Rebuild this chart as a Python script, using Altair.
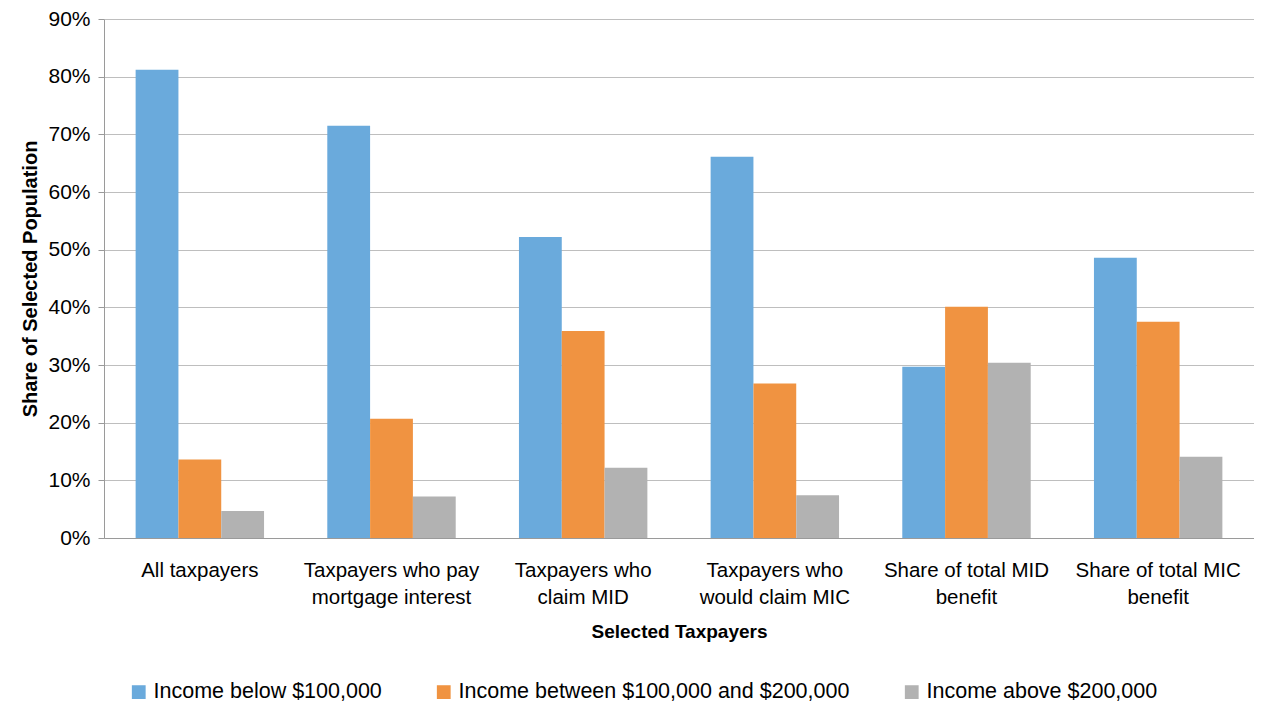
import altair as alt
import pandas as pd

categories = [
    "All taxpayers",
    "Taxpayers who pay\nmortgage interest",
    "Taxpayers who\nclaim MID",
    "Taxpayers who\nwould claim MIC",
    "Share of total MID\nbenefit",
    "Share of total MIC\nbenefit",
]
series = [
    "Income below $100,000",
    "Income between $100,000 and $200,000",
    "Income above $200,000",
]
below_100k = [0.812, 0.715, 0.522, 0.661, 0.297, 0.486]
between_100k_200k = [0.136, 0.207, 0.359, 0.268, 0.401, 0.375]
above_200k = [0.047, 0.072, 0.122, 0.074, 0.304, 0.141]
colors = ["#6AAADC", "#F09341", "#B2B2B2"]

rows = []
for vals, s in zip([below_100k, between_100k_200k, above_200k], series):
    for c, v in zip(categories, vals):
        rows.append({"category": c, "series": s, "value": v})
df = pd.DataFrame(rows)

FONT = "Liberation Sans"

chart = (
    alt.Chart(df)
    .mark_bar()
    .encode(
        x=alt.X(
            "category:N",
            sort=categories,
            scale=alt.Scale(paddingInner=0.33, paddingOuter=0.165),
            axis=alt.Axis(
                title="Selected Taxpayers",
                titleFont=FONT,
                titleFontSize=19,
                titleFontWeight="bold",
                titleColor="#000000",
                titlePadding=15,
                labelExpr="split(datum.label, '\\n')",
                labelAngle=0,
                labelFont=FONT,
                labelFontSize=20.5,
                labelColor="#000000",
                labelLineHeight=27,
                labelPadding=22,
                labelLimit=0,
                ticks=False,
                domainColor="#9A9A9A",
                grid=False,
            ),
        ),
        xOffset=alt.XOffset("series:N", sort=series),
        y=alt.Y(
            "value:Q",
            scale=alt.Scale(domain=[0, 0.9]),
            axis=alt.Axis(
                title="Share of Selected Population",
                titleFont=FONT,
                titleFontSize=20,
                titleFontWeight="bold",
                titleColor="#000000",
                titlePadding=7,
                format=".0%",
                values=[0, 0.1, 0.2, 0.3, 0.4, 0.5, 0.6, 0.7, 0.8, 0.9],
                labelFont=FONT,
                labelFontSize=21,
                labelColor="#000000",
                labelPadding=8,
                tickSize=6,
                tickColor="#9A9A9A",
                domainColor="#9A9A9A",
                gridColor="#BEBEBE",
            ),
        ),
        color=alt.Color(
            "series:N",
            sort=series,
            scale=alt.Scale(domain=series, range=colors),
            legend=alt.Legend(
                title=None,
                orient="none",
                direction="horizontal",
                legendX=24,
                legendY=662,
                symbolType="square",
                symbolSize=190,
                symbolStrokeWidth=0,
                labelFont=FONT,
                labelFontSize=21.5,
                labelColor="#000000",
                labelLimit=0,
                columnPadding=51,
                labelOffset=4,
            ),
        ),
    )
    .properties(width=1150, height=519, padding={"left": 96, "top": 11, "right": 0, "bottom": 166})
    .configure(autosize=alt.AutoSizeParams(type="none"))
    .configure_view(stroke=None)
)

chart.save("out.html", embed_options={"renderer": "svg", "actions": False})
